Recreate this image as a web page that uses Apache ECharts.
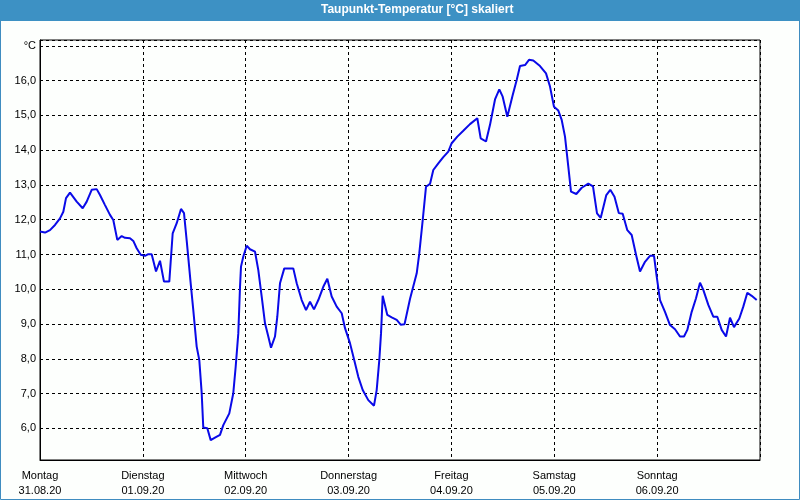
<!DOCTYPE html>
<html>
<head>
<meta charset="utf-8">
<script src="https://cdn.jsdelivr.net/npm/echarts@6/dist/echarts.min.js"></script>
<style>html,body{margin:0;padding:0;background:#fdfffd;}#c{width:800px;height:500px;}</style>
</head>
<body>
<div id="c"></div>
<script>
// hours since Monday 31.08.20 00:00
var hours = [0.0,1.17,2.33,3.5,4.67,5.44,6.07,7.0,8.56,9.96,10.9,12.06,13.23,14.0,15.17,16.33,17.1,18.04,19.06,19.83,21.0,21.77,22.56,23.5,24.5,25.27,26.06,27.07,28.0,28.93,30.17,30.96,31.9,32.9,33.6,34.23,35.16,35.77,36.56,37.17,37.73,38.1,39.04,39.83,40.83,42.0,42.77,44.17,45.1,45.66,46.27,46.67,46.9,47.44,48.23,49.0,50.17,50.94,51.73,52.5,53.27,53.9,54.83,55.37,56.0,57.0,59.1,59.9,61.06,62.07,63.0,63.93,64.94,66.1,67.04,68.06,69.23,70.4,71.17,72.33,73.5,74.27,75.3,76.6,77.93,78.56,79.17,79.57,79.96,81.04,82.06,83.23,84.16,85.05,86.33,87.9,88.5,89.3,90.07,91.0,91.77,92.94,94.1,95.27,96.06,97.37,98.77,100.33,102.04,102.83,104.07,105.0,106.17,107.17,107.96,109.04,110.3,111.23,112.0,113.17,114.1,115.1,116.67,118.07,119.0,119.93,120.94,121.73,122.5,123.27,123.9,125.14,126.4,127.94,129.03,129.97,130.83,132.14,133.07,134.05,135.05,135.96,137.04,138.06,139.07,140.0,141.17,142.33,143.27,143.9,144.67,145.83,147.0,148.17,149.33,150.27,151.04,152.06,153.07,154.0,154.77,155.94,157.1,158.04,159.06,160.07,161.0,161.93,163.17,164.1,165.04,166.06,167.23];
var dewpoint = [11.66,11.63,11.70,11.85,12.04,12.23,12.62,12.78,12.52,12.33,12.52,12.86,12.88,12.71,12.42,12.14,11.99,11.42,11.53,11.48,11.47,11.39,11.18,10.99,10.96,11.01,11.01,10.51,10.82,10.22,10.22,11.61,11.90,12.31,12.19,11.40,10.17,9.40,8.35,7.96,7.01,6.02,6.00,5.66,5.73,5.81,6.09,6.43,7.01,7.77,8.73,10.07,10.65,10.94,11.25,11.15,11.08,10.55,9.79,9.02,8.64,8.32,8.64,9.21,10.17,10.60,10.60,10.17,9.69,9.40,9.64,9.42,9.69,10.07,10.30,9.79,9.50,9.31,8.88,8.45,7.87,7.48,7.10,6.81,6.65,7.10,7.96,8.73,9.81,9.26,9.19,9.12,8.98,8.99,9.72,10.46,11.03,11.99,12.95,13.03,13.43,13.62,13.80,13.96,14.20,14.39,14.56,14.75,14.92,14.34,14.25,14.73,15.46,15.75,15.54,14.96,15.59,16.02,16.42,16.45,16.60,16.58,16.42,16.21,15.83,15.25,15.14,14.87,14.39,13.53,12.81,12.74,12.92,13.04,12.96,12.18,12.05,12.71,12.86,12.66,12.19,12.17,11.70,11.56,10.99,10.51,10.79,10.96,10.96,10.36,9.69,9.35,8.97,8.85,8.64,8.64,8.83,9.35,9.74,10.19,9.98,9.55,9.21,9.21,8.83,8.64,9.18,8.91,9.16,9.50,9.90,9.81,9.69];
var dayNames = ['Montag','Dienstag','Mittwoch','Donnerstag','Freitag','Samstag','Sonntag'];
var dayDates = ['31.08.20','01.09.20','02.09.20','03.09.20','04.09.20','05.09.20','06.09.20'];
var titleText = 'Taupunkt-Temperatur [°C] skaliert';
var unitLabel = '°C';

var points = hours.map(function(h, i){ return [h, dewpoint[i]]; });
var font = '"Liberation Sans", Arial, sans-serif';
var chart = echarts.init(document.getElementById('c'), null, {renderer: 'canvas'});
chart.setOption({
  animation: false,
  backgroundColor: '#fdfffd',
  graphic: [
    {type: 'rect', z: -10, shape: {x: 0.5, y: 0.5, width: 799, height: 499}, style: {fill: 'none', stroke: '#3f8cc0', lineWidth: 1}},
    {type: 'rect', z: -9, shape: {x: 0, y: 0, width: 800, height: 21}, style: {fill: '#3d91c4'}},
    {type: 'text', z: 10, left: 321, top: 4, style: {text: titleText, fill: '#ffffff', font: 'bold 12px ' + font}}
  ],
  grid: {left: 40, right: 40, top: 40, bottom: 40, show: true, borderColor: '#000', borderWidth: 1, backgroundColor: 'transparent'},
  xAxis: {
    type: 'value', min: 0, max: 168, interval: 24,
    axisLine: {show: true, lineStyle: {color: '#000', width: 1}},
    axisTick: {show: false},
    splitLine: {show: true, lineStyle: {color: '#000', type: [3, 3], width: 1}},
    axisLabel: {
      margin: 8, color: '#000', fontFamily: font, fontSize: 11, lineHeight: 15,
      showMaxLabel: false,
      formatter: function(v){ var i = Math.round(v / 24); if (i >= dayNames.length) return ''; return dayNames[i] + '\n' + dayDates[i]; }
    }
  },
  yAxis: {
    type: 'value', min: 5.088, max: 17.17, minInterval: 1, maxInterval: 1, splitNumber: 12,
    axisLine: {show: true, lineStyle: {color: '#000', width: 1}},
    axisTick: {show: false},
    splitLine: {show: true, lineStyle: {color: '#000', type: [3, 3], width: 1}},
    axisLabel: {
      margin: 4, color: '#000', fontFamily: font, fontSize: 11,
      showMinLabel: false, showMaxLabel: false,
      formatter: function(v){ if (Math.abs(v - 17) < 0.01) return unitLabel; return v.toFixed(1).replace('.', ','); }
    }
  },
  series: [{
    type: 'line', data: points, showSymbol: false, smooth: false,
    lineStyle: {color: '#0a0ae8', width: 2}, itemStyle: {color: '#0a0ae8'}
  }]
});
</script>
</body>
</html>
